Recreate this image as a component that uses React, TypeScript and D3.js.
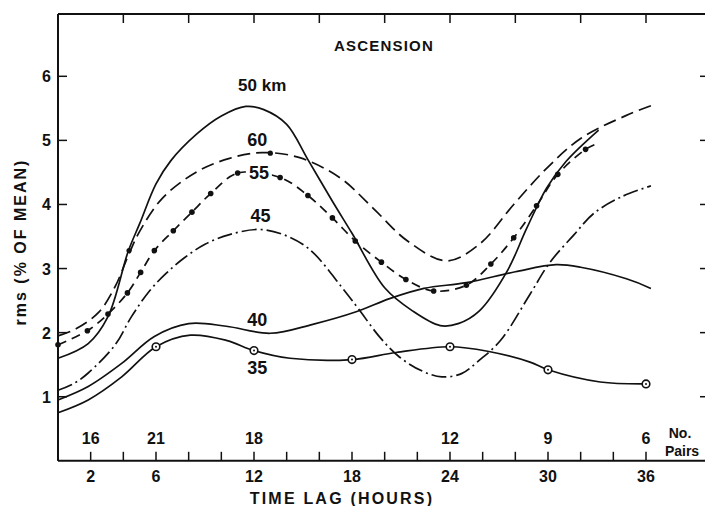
import React from "react";
import * as d3 from "d3";

// ---- data (hours, rms % of mean) ----
const s50: [number, number][] = [[0,1.6],[1.85,1.83],[3.06,2.25],[4.3,3.27],[5,3.7],[6,4.32],[6.9,4.68],[8.5,5.1],[10,5.38],[11.5,5.53],[12.6,5.48],[14,5.25],[15.3,4.7],[16.8,4.05],[18,3.55],[20,2.7],[21.7,2.34],[23.4,2.11],[24.5,2.14],[25.8,2.34],[27.5,2.96],[28.7,3.63],[29.9,4.25],[31.1,4.67],[33.1,5.16]];
const s60: [number, number][] = [[0,1.95],[1.1,2.06],[2.5,2.32],[3.5,2.72],[4.3,3.2],[5,3.58],[6.4,4.1],[8.5,4.51],[10.5,4.72],[12.5,4.81],[14.8,4.73],[17.3,4.41],[19.3,3.94],[21.4,3.43],[23.8,3.12],[25.8,3.38],[27.9,4.0],[29.9,4.56],[32,5.03],[34.8,5.39],[36.3,5.54]];
const s55: [number, number][] = [[0,1.81],[1.8,2.03],[3.06,2.29],[4.25,2.62],[5.06,2.94],[5.9,3.28],[7.06,3.59],[8.2,3.88],[9.35,4.17],[11.0,4.49],[13.6,4.42],[15.3,4.14],[16.8,3.79],[18.2,3.43],[19.8,3.1],[21.3,2.83],[23,2.65],[25,2.74],[26.5,3.07],[27.9,3.48],[29.3,3.98],[30.6,4.47],[32.3,4.86],[32.9,4.94]];
const s45: [number, number][] = [[0,1.1],[1,1.21],[1.85,1.37],[3.5,1.81],[4.5,2.25],[5.6,2.65],[6.6,2.92],[7.7,3.16],[9,3.38],[10.5,3.53],[12.3,3.61],[13.8,3.53],[15.4,3.3],[17.4,2.7],[18.4,2.37],[19.7,1.93],[20.9,1.62],[22.3,1.4],[23.5,1.31],[24.7,1.36],[25.8,1.57],[27.1,1.88],[28.9,2.6],[30.1,3.09],[31.6,3.53],[32.8,3.86],[34.5,4.12],[36.3,4.29]];
const s40: [number, number][] = [[0,0.95],[1.85,1.16],[3.9,1.52],[5.9,1.94],[8,2.14],[10.3,2.1],[13,1.99],[15.6,2.13],[18.3,2.33],[20.3,2.53],[22.4,2.69],[25,2.78],[28,2.95],[30.5,3.06],[32,3.02],[34.8,2.84],[36.3,2.69]];
const s35: [number, number][] = [[0,0.75],[1.85,0.95],[3.9,1.31],[6,1.78],[8.1,1.96],[10.3,1.88],[12,1.72],[14.2,1.6],[18,1.58],[20.7,1.69],[24,1.78],[26.3,1.71],[28.9,1.54],[30,1.42],[33.2,1.23],[36,1.2]];
const circles35: [number, number][] = [[6,1.78],[12,1.72],[18,1.58],[24,1.78],[30,1.42],[36,1.2]];
const extraDots: [number, number][] = [[4.35,3.28],[13,4.8]];

const xTickLabels = [2, 6, 12, 18, 24, 30, 36];
const bottomTicks = d3.range(0, 37, 2);
const topTicks = d3.range(4, 37, 4);
const yTicks = [1, 2, 3, 4, 5, 6];
const pairsHours = [2, 6, 12, 24, 30, 36];
const pairsCount = [16, 21, 18, 12, 9, 6];

const curveLabels = [
  { text: "50 km", h: 12.5, v: 5.86 },
  { text: "60", h: 12.2, v: 5.0 },
  { text: "55", h: 12.3, v: 4.49 },
  { text: "45", h: 12.4, v: 3.82 },
  { text: "40", h: 12.2, v: 2.2 },
  { text: "35", h: 12.2, v: 1.45 },
];

export default function App() {
  const W = 705, H = 506;
  const x = d3.scaleLinear().domain([0, 36]).range([58, 646]);
  const y = d3.scaleLinear().domain([0, 6]).range([460.8, 76.3]);
  const left = 58, top = 14, bottom = y(0), right = 706;
  const line = d3.line<[number, number]>().x(d => x(d[0])).y(d => y(d[1])).curve(d3.curveCatmullRom.alpha(0.5));
  const font = "'Liberation Sans', Arial, sans-serif";
  const ink = "#111";

  return (
    <svg width={W} height={H} style={{ position: "absolute", left: 0, top: 0, background: "#fff" }} fontFamily={font} fontWeight="bold">
      <rect x={0} y={0} width={W} height={H} fill="#fff" />
      {/* frame */}
      <line x1={left} y1={top} x2={right} y2={top} stroke={ink} strokeWidth={2} />
      <line x1={left} y1={top} x2={left} y2={bottom} stroke={ink} strokeWidth={2} />
      <line x1={left} y1={bottom} x2={right} y2={bottom} stroke={ink} strokeWidth={2} />
      {/* ticks */}
      {bottomTicks.map(t => <line key={"b" + t} x1={x(t)} x2={x(t)} y1={bottom} y2={bottom - 9} stroke={ink} strokeWidth={1.5} />)}
      {topTicks.map(t => <line key={"t" + t} x1={x(t)} x2={x(t)} y1={top} y2={top + 9} stroke={ink} strokeWidth={1.5} />)}
      {yTicks.map(t => <line key={"l" + t} x1={left} x2={left + 9} y1={y(t)} y2={y(t)} stroke={ink} strokeWidth={1.5} />)}
      {yTicks.map(t => <line key={"r" + t} x1={right} x2={right - 6} y1={y(t)} y2={y(t)} stroke={ink} strokeWidth={1.5} />)}
      {/* tick labels */}
      {xTickLabels.map(t => <text key={"xl" + t} x={x(t)} y={482} textAnchor="middle" fontSize={16} fill={ink}>{t}</text>)}
      {yTicks.map(t => <text key={"yl" + t} x={51} y={y(t) + 6} textAnchor="end" fontSize={16} fill={ink}>{t}</text>)}
      {pairsHours.map((h, i) => <text key={"p" + h} x={x(h)} y={444} textAnchor="middle" fontSize={16} fill={ink}>{pairsCount[i]}</text>)}
      <text x={680} y={438} textAnchor="middle" fontSize={14} fill={ink}>No.</text>
      <text x={682} y={456} textAnchor="middle" fontSize={14} fill={ink}>Pairs</text>
      {/* axis titles */}
      <text x={342} y={504} textAnchor="middle" fontSize={16} letterSpacing={2.2} fill={ink}>TIME LAG (HOURS)</text>
      <text transform={`translate(26,242) rotate(-90)`} textAnchor="middle" fontSize={16} letterSpacing={2} fill={ink}>rms (% OF MEAN)</text>
      <text x={384} y={51} textAnchor="middle" fontSize={15} letterSpacing={1.2} fill={ink}>ASCENSION</text>

      {/* curves */}
      <path d={line(s50) || ""} fill="none" stroke={ink} strokeWidth={1.7} />
      <path d={line(s60) || ""} fill="none" stroke={ink} strokeWidth={1.7} strokeDasharray="13 6" />
      <path d={line(s55) || ""} fill="none" stroke={ink} strokeWidth={1.7} strokeDasharray="9 6" />
      <path d={line(s45) || ""} fill="none" stroke={ink} strokeWidth={1.7} strokeDasharray="15 4 2 4" />
      <path d={line(s40) || ""} fill="none" stroke={ink} strokeWidth={1.7} />
      <path d={line(s35) || ""} fill="none" stroke={ink} strokeWidth={1.7} />
      {s55.slice(0, -1).map((d, i) => <circle key={"d55" + i} cx={x(d[0])} cy={y(d[1])} r={2.8} fill={ink} />)}
      {extraDots.map((d, i) => <circle key={"ex" + i} cx={x(d[0])} cy={y(d[1])} r={2.6} fill={ink} />)}
      {circles35.map((d, i) => (
        <g key={"c35" + i}>
          <circle cx={x(d[0])} cy={y(d[1])} r={3.8} fill="#fff" stroke={ink} strokeWidth={1.6} />
          <circle cx={x(d[0])} cy={y(d[1])} r={1} fill={ink} />
        </g>
      ))}
      {/* curve labels */}
      {curveLabels.map(l => {
        const lx = x(l.h), ly = y(l.v);
        return (
          <g key={l.text}>
            {l.text === "55" && <rect x={lx - 13} y={ly - 9} width={26} height={17} fill="#fff" />}
            <text x={lx} y={ly + 6} textAnchor="middle" fontSize={l.text === "50 km" ? 17 : 18} fill={ink}>{l.text}</text>
          </g>
        );
      })}
    </svg>
  );
}
